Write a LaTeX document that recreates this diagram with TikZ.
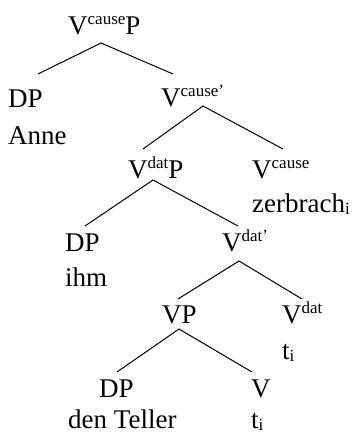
\documentclass[tikz,border=0pt]{standalone}
\usepackage{fontspec}
\setmainfont{Liberation Serif}
\newcommand{\upx}[1]{\raisebox{0.36em}{\fontsize{17}{18}\selectfont #1}}
\newcommand{\dnx}[1]{\raisebox{-0.1em}{\fontsize{17}{18}\selectfont #1}}

\begin{document}
\begin{tikzpicture}[x=1pt, y=-1pt]
    \tikzstyle{cat} = [inner sep=0pt, anchor=base west, font=\fontsize{27}{30}\selectfont]
    \tikzstyle{branch} = [line width=1pt]
    \useasboundingbox (0,0) rectangle (352,437);

    % Level 1
    \node [cat] (vcauseP) at (68,34) {V\upx{cause}P};

    % Level 2
    \node [cat] (dpA) at (8,107) {DP};
    \node [cat] (anne) at (8,144) {Anne};
    \node [cat] (vcauseBar) at (161,106) {V\upx{cause’}};

    % Level 3
    \node [cat] (vdatP) at (128,178) {V\upx{dat}P};
    \node [cat] (vcause) at (252,178) {V\upx{cause}};
    \node [cat] (zerbrach) at (252,212) {zerbrach\dnx{i}};

    % Level 4
    \node [cat] (dpB) at (65,251) {DP};
    \node [cat] (ihm) at (65,286) {ihm};
    \node [cat] (vdatBar) at (222,251) {V\upx{dat’}};

    % Level 5
    \node [cat] (vp) at (162,323) {VP};
    \node [cat] (vdat) at (282,323) {V\upx{dat}};
    \node [cat] (traceA) at (282,359) {t\dnx{i}};

    % Level 6
    \node [cat] (dpC) at (99,397) {DP};
    \node [cat] (teller) at (68,428) {den Teller};
    \node [cat] (v) at (251,397) {V};
    \node [cat] (traceB) at (251,428) {t\dnx{i}};

    % Branches
    \draw [branch] ([shift={(30,-33)}]dpA.base west) -- ([shift={(33,9)}]vcauseP.base west) -- ([shift={(12,-32)}]vcauseBar.base west);
    \draw [branch] ([shift={(15,-29)}]vdatP.base west) -- ([shift={(42,0)}]vcauseBar.base west) -- ([shift={(31,-29)}]vcause.base west);
    \draw [branch] ([shift={(20,-25)}]dpB.base west) -- ([shift={(25,2)}]vdatP.base west) -- ([shift={(16,-25)}]vdatBar.base west);
    \draw [branch] ([shift={(16,-24)}]vp.base west) -- ([shift={(17,10)}]vdatBar.base west) -- ([shift={(20,-24)}]vdat.base west);
    \draw [branch] ([shift={(18,-25)}]dpC.base west) -- ([shift={(17,6)}]vp.base west) -- ([shift={(1,-25)}]v.base west);
\end{tikzpicture}
\end{document}
